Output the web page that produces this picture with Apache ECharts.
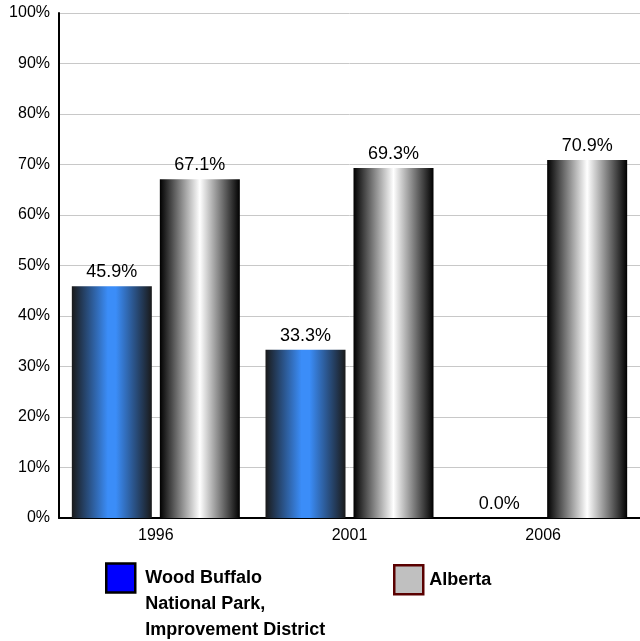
<!DOCTYPE html>
<html>
<head>
<meta charset="utf-8">
<script src="https://cdn.jsdelivr.net/npm/echarts@6/dist/echarts.min.js"></script>
<style>
html,body{margin:0;padding:0;background:#fff;}
#chart{width:640px;height:641px;}
</style>
</head>
<body>
<div id="chart"></div>
<script>
var categories = ['1996', '2001', '2006'];
var woodBuffalo = [45.9, 33.3, 0.0];
var alberta = [67.1, 69.3, 70.9];
var seriesNames = ['Wood Buffalo National Park, Improvement District', 'Alberta'];
var legendLines = ['Wood Buffalo', 'National Park,', 'Improvement District'];

var blueGrad = {
  type: 'linear', x: 0, y: 0, x2: 1, y2: 0,
  colorStops: [
    {offset: 0, color: '#1a1a1a'},
    {offset: 0.45, color: '#3b8df8'},
    {offset: 0.55, color: '#3b8df8'},
    {offset: 1, color: '#1a1a1a'}
  ]
};
var greyGrad = {
  type: 'linear', x: 0, y: 0, x2: 1, y2: 0,
  colorStops: [
    {offset: 0, color: '#000000'},
    {offset: 0.5, color: '#ffffff'},
    {offset: 1, color: '#000000'}
  ]
};
var font = 'Liberation Sans, Arial, sans-serif';
var chart = echarts.init(document.getElementById('chart'));
chart.setOption({
  animation: false,
  grid: {left: 59, right: -4, top: 13, bottom: 123, containLabel: false},
  legend: [{
    data: [{name: seriesNames[0], icon: 'rect', itemStyle: {color: '#0000ff', borderColor: '#000000', borderWidth: 2.5}}],
    left: 105, top: 513, padding: 0, itemWidth: 29, itemHeight: 29,
    formatter: function () { return '\n\n' + legendLines.join('\n'); },
    textStyle: {fontFamily: font, fontSize: 18, fontWeight: 'bold', color: '#000', lineHeight: 26, padding: [0, 0, 0, 5]},
    selectedMode: false
  }, {
    data: [{name: seriesNames[1], icon: 'rect', itemStyle: {color: '#c0c0c0', borderColor: '#5a0000', borderWidth: 2.5}}],
    left: 393, top: 564, padding: 0, itemWidth: 29, itemHeight: 29,
    textStyle: {fontFamily: font, fontSize: 18, fontWeight: 'bold', color: '#000', padding: [0, 0, 0, 1]},
    selectedMode: false
  }],
  xAxis: {
    type: 'category', data: categories,
    axisLine: {show: true, lineStyle: {color: '#000', width: 2}},
    axisTick: {show: false},
    axisLabel: {fontFamily: font, fontSize: 16, color: '#000', margin: 10}
  },
  yAxis: {
    type: 'value', min: 0, max: 100, interval: 10,
    axisLine: {show: true, lineStyle: {color: '#000', width: 2}},
    axisTick: {show: false},
    splitLine: {show: true, lineStyle: {color: '#c8c8c8', width: 1}},
    axisLabel: {fontFamily: font, fontSize: 16, color: '#000', margin: 9, formatter: '{value}%'}
  },
  series: [{
    name: seriesNames[0], type: 'bar', data: woodBuffalo,
    barWidth: 80, barGap: '10%',
    itemStyle: {color: blueGrad},
    label: {show: true, position: 'top', distance: 5, fontFamily: font, fontSize: 18, color: '#000',
      formatter: function (p) { return p.value.toFixed(1) + '%'; }}
  }, {
    name: seriesNames[1], type: 'bar', data: alberta,
    barWidth: 80,
    itemStyle: {color: greyGrad},
    label: {show: true, position: 'top', distance: 5, fontFamily: font, fontSize: 18, color: '#000',
      formatter: function (p) { return p.value.toFixed(1) + '%'; }}
  }]
});
</script>
</body>
</html>
